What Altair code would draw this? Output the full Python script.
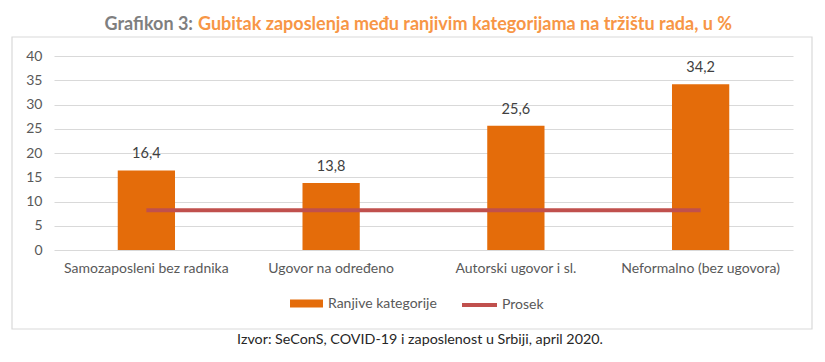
import altair as alt
import pandas as pd

categories = ["Samozaposleni bez radnika", "Ugovor na određeno", "Autorski ugovor i sl.", "Neformalno (bez ugovora)"]
values = [16.4, 13.8, 25.6, 34.2]
prosek = [8.2, 8.2, 8.2, 8.2]
bar_series = "Ranjive kategorije"
line_series = "Prosek"
y_ticks = [0, 5, 10, 15, 20, 25, 30, 35, 40]
title_prefix = "Grafikon 3:"
title_main = "Gubitak zaposlenja među ranjivim kategorijama na tržištu rada, u %"
source_text = "Izvor: SeConS, COVID-19 i zaposlenost u Srbiji, april 2020."

FONT = "Lato"
GRAY = "#595959"
ORANGE = "#E46C0A"
RED = "#C0504D"

df = pd.DataFrame({"kategorija": categories, "vrednost": values, "prosek": prosek,
                   "s1": [bar_series] * 4, "s2": [line_series] * 4})

xscale = alt.Scale(paddingInner=0.69, paddingOuter=0.345)
xaxis = alt.Axis(labelAngle=0, labelFont=FONT, labelFontSize=14, labelColor=GRAY,
                 labelPadding=11, domain=False, ticks=False, grid=False)
yscale = alt.Scale(domain=[0, 40], nice=False)
yaxis = alt.Axis(values=y_ticks, labelFont=FONT, labelFontSize=14, labelColor=GRAY,
                 labelPadding=12, domain=False, ticks=False, gridColor="#D9D9D9",
                 gridWidth=1, labelOverlap=False)


def X():
    return alt.X("kategorija:N", sort=categories, title=None, scale=xscale, axis=xaxis)


def Y(field):
    return alt.Y(field, scale=yscale, title=None, axis=yaxis)


frame = alt.Chart(pd.DataFrame({"a": [0]})).mark_rect(
    fill="transparent", stroke="#D9D9D9", strokeWidth=1.2
).encode(x=alt.value(-42), x2=alt.value(758), y=alt.value(-19), y2=alt.value(273))

bars = alt.Chart(df).mark_bar().encode(
    x=X(),
    y=Y("vrednost:Q"),
    color=alt.Color("s1:N", scale=alt.Scale(domain=[bar_series], range=[ORANGE]),
                    legend=alt.Legend(title=None, orient="none", legendX=244, legendY=239,
                                      symbolType="M-2,-0.5H2V0.5H-2Z", symbolSize=272,
                                      symbolStrokeWidth=0, labelFont=FONT, labelFontSize=14,
                                      labelColor=GRAY, labelOffset=13, padding=0)),
)

labels = alt.Chart(df).transform_calculate(
    lab="replace(format(datum.vrednost, '.1f'), '.', ',')"
).mark_text(font=FONT, fontSize=14.5, color="#404040", dy=-16).encode(
    x=X(),
    y=Y("vrednost:Q"),
    text="lab:N",
)

line = alt.Chart(df).mark_line(strokeWidth=4).encode(
    x=X(),
    y=Y("prosek:Q"),
    stroke=alt.Stroke("s2:N", scale=alt.Scale(domain=[line_series], range=[RED]),
                      legend=alt.Legend(title=None, orient="none", legendX=406, legendY=229.5,
                                        symbolType="stroke", symbolSize=1225,
                                        symbolStrokeWidth=4, labelFont=FONT, labelFontSize=14,
                                        labelColor=GRAY, labelOffset=3, padding=0)),
)

t1 = alt.Chart(pd.DataFrame({"t": [title_prefix]})).mark_text(
    font=FONT, fontSize=18, fontWeight="bold", color="#7F7F7F", align="right", baseline="middle"
).encode(x=alt.value(139), y=alt.value(-31), text="t:N")

t2 = alt.Chart(pd.DataFrame({"t": [title_main]})).mark_text(
    font=FONT, fontSize=18, fontWeight="bold", color="#F79646", align="left", baseline="middle"
).encode(x=alt.value(144), y=alt.value(-31), text="t:N")

src = alt.Chart(pd.DataFrame({"t": [source_text]})).mark_text(
    font=FONT, fontSize=14.3, color="#262626", align="center", baseline="middle"
).encode(x=alt.value(366), y=alt.value(284), text="t:N")

chart = alt.layer(frame, bars, labels, line, t1, t2, src).resolve_scale(
    color="independent", stroke="independent"
).properties(
    width=739, height=194,
    autosize=alt.AutoSizeParams(type="none"),
    padding={"left": 46, "top": 48, "right": 24, "bottom": 104},
    background="white",
).configure_view(strokeWidth=0)

chart.save("out.html", embed_options={"renderer": "svg", "actions": False})
